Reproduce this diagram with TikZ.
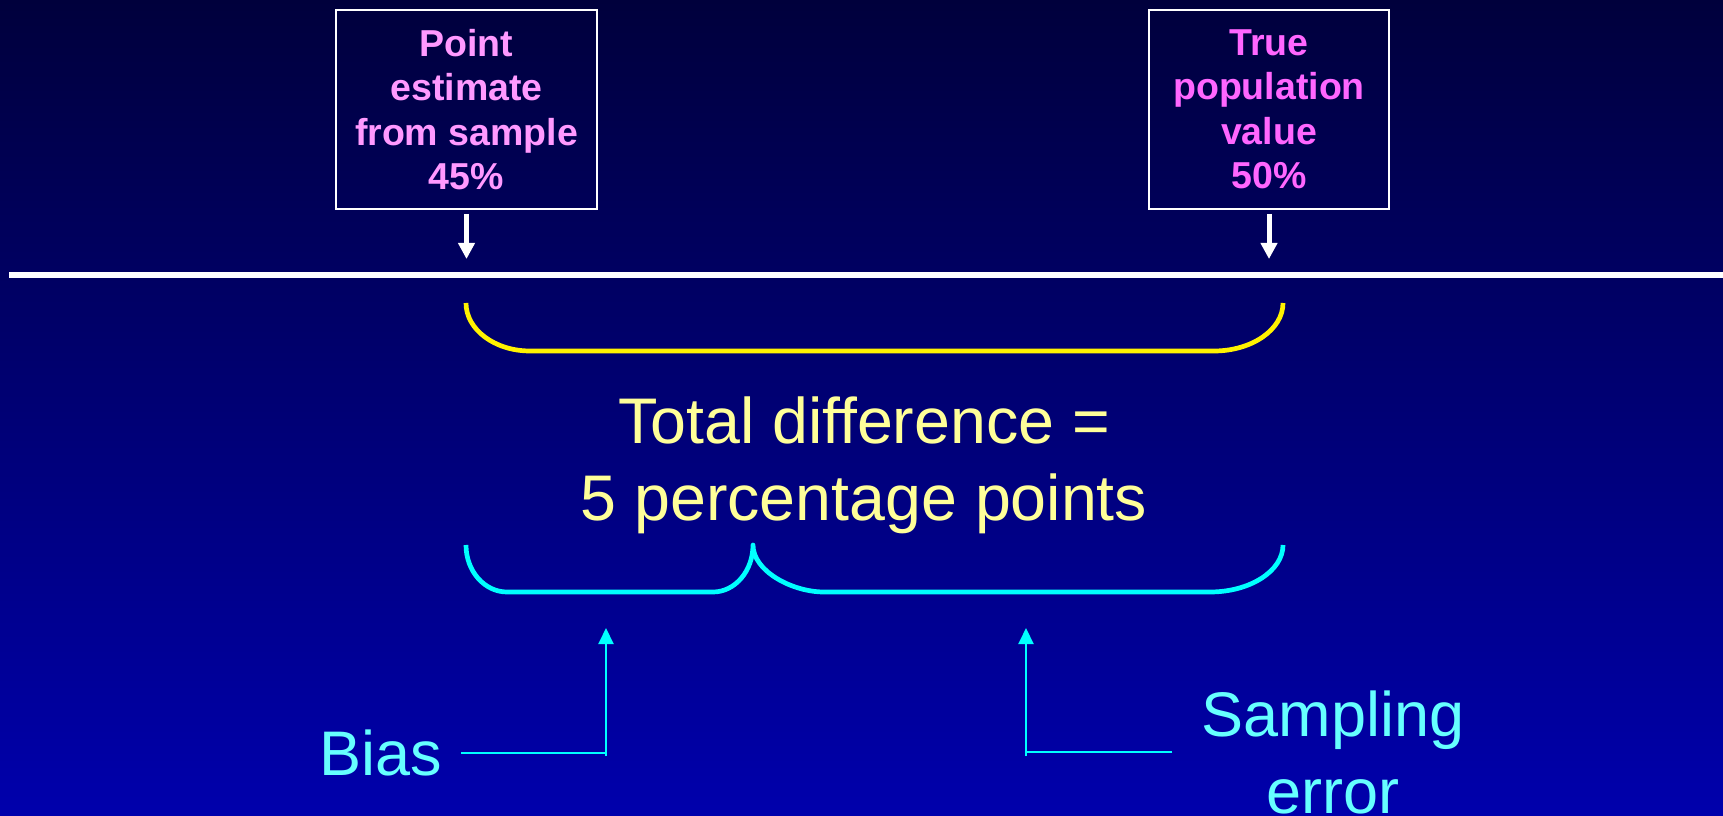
\documentclass[tikz,border=0pt]{standalone}
\usepackage{fontspec}
\setmainfont{Liberation Sans}
\usetikzlibrary{arrows.meta}

\definecolor{bgtop}{RGB}{0,0,60}
\definecolor{bgbottom}{RGB}{0,0,172}
\definecolor{estpink}{RGB}{255,153,255}
\definecolor{truepink}{RGB}{255,102,255}
\definecolor{paleyellow}{RGB}{255,255,153}
\definecolor{brightcyan}{RGB}{0,255,255}
\definecolor{palecyan}{RGB}{102,255,255}

\tikzset{
  valuebox/.style={draw=white, line width=2pt, align=center, inner sep=0pt,
    minimum height=199pt, font=\bfseries\fontsize{37.5}{44.5}\selectfont},
  bigtext/.style={align=center, font=\fontsize{64.5}{77}\selectfont},
  labeltext/.style={align=center, inner ysep=0pt, text=palecyan,
    font=\fontsize{63}{77}\selectfont},
  downarrow/.style={white, line width=5pt, -{Triangle[width=16pt,length=16pt]}},
  cyanline/.style={brightcyan, line width=2pt},
  cyanarrow/.style={cyanline, -{Triangle[width=15pt,length=16pt]}},
  bracepath/.style={line width=4.7pt, line join=round}
}

\begin{document}
\begin{tikzpicture}[x=1pt, y=1pt]
    % 背景のグラデーション
    \useasboundingbox (0,0) rectangle (1723,815);
    \clip (0,0) rectangle (1723,815);
    \shade[top color=bgtop, bottom color=bgbottom] (0,0) rectangle (1723,815);

    % 推定値と真の値の箱
    \node[valuebox, minimum width=261pt, text=estpink] (estimate) at (466.5,705.5)
        {Point\\estimate\\from sample\\45\%};
    \node[valuebox, minimum width=240pt, text=truepink] (truth) at (1269,705.5)
        {True\\population\\value\\50\%};

    % 数直線と矢印
    \coordinate (axisL) at (9,540);
    \coordinate (axisR) at (1723,540);
    \draw[white, line width=6.5pt] (axisL) -- (axisR);
    \coordinate (estTip) at (466.5,556);
    \coordinate (truthTip) at (1269,556);
    \draw[downarrow, shorten <=4pt] (estimate.south) -- (estTip);
    \draw[downarrow, shorten <=4pt] (truth.south) -- (truthTip);

    % 全体の差（黄色の括弧）
    \draw[yellow, bracepath] (466,512) .. controls (466,485.5) and (494.7,464) .. (530,464)
        -- (1214,464) .. controls (1252,464) and (1283,485.5) .. (1283,512);
    \node[bigtext, text=paleyellow] (total) at (864,350)
        {Total difference =\\5 percentage points};

    % 偏りと標本誤差（水色の括弧）
    \draw[brightcyan, bracepath] (466,270) .. controls (466,244) and (484.4,223) .. (507,223)
        -- (713,223) .. controls (735,223) and (753,244) .. (753,270)
        .. controls (753,244) and (792,223) .. (824,223)
        -- (1210,223) .. controls (1250,223) and (1283,244) .. (1283,270);

    % ラベルと引き出し線
    \node[labeltext, inner xsep=19pt] (bias) at (381,62) {Bias};
    \node[labeltext, inner xsep=29pt] (sampling) at (1333,63) {Sampling\\error};
    \coordinate (biasFoot) at (606,59);
    \coordinate (biasTip) at (606,187);
    \coordinate (samplingFoot) at (1026,59);
    \coordinate (samplingTip) at (1026,187);
    \draw[cyanline] (bias.east) -- (bias.east -| biasFoot);
    \draw[cyanarrow] (biasFoot) -- (biasTip);
    \draw[cyanline] (sampling.west) -- (sampling.west -| samplingFoot);
    \draw[cyanarrow] (samplingFoot) -- (samplingTip);

\end{tikzpicture}
\end{document}
